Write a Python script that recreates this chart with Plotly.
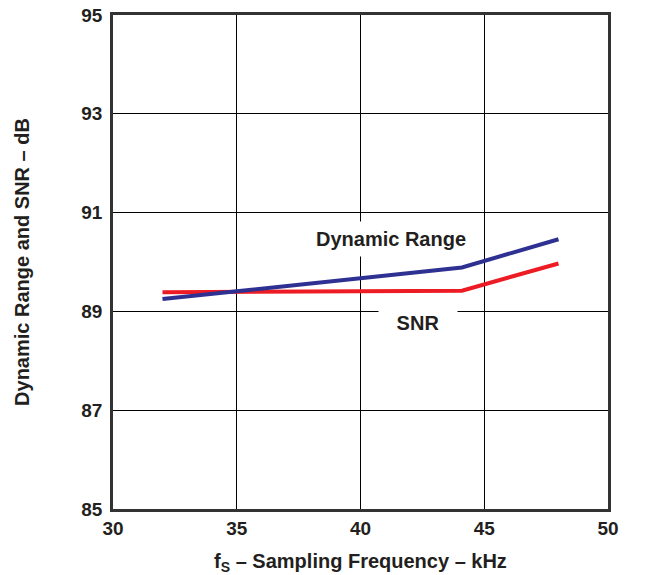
import plotly.graph_objects as go

freq_khz = [32, 44.1, 48]
dynamic_range_db = [89.25, 89.89, 90.46]
snr_db = [89.39, 89.42, 89.97]

x_ticks = [30, 35, 40, 45, 50]
y_ticks = [85, 87, 89, 91, 93, 95]

FONT = "Liberation Sans, Arial, sans-serif"
TXT = "#231F20"

fig = go.Figure()
fig.add_trace(go.Scatter(x=freq_khz, y=snr_db, mode="lines",
                         line=dict(color="#ED1C24", width=4), name="SNR"))
fig.add_trace(go.Scatter(x=freq_khz, y=dynamic_range_db, mode="lines",
                         line=dict(color="#2E3192", width=4), name="Dynamic Range"))

fig.add_annotation(x=41.23, y=90.47, text="<b>Dynamic Range</b>", showarrow=False,
                   bgcolor="white", font=dict(family=FONT, size=20, color=TXT),
                   borderpad=6)
fig.add_annotation(x=42.32, y=88.77, text="<b>SNR</b>", showarrow=False,
                   bgcolor="white", font=dict(family=FONT, size=20, color=TXT),
                   borderpad=4, width=70)

axis_common = dict(showgrid=True, gridcolor="black", gridwidth=1,
                   showline=True, linecolor="#333333", linewidth=2.5, mirror=True,
                   zeroline=False, ticks="", automargin=False,
                   tickfont=dict(family=FONT, size=19, color=TXT))

fig.update_xaxes(range=[30, 50], tickvals=x_ticks, ticktext=[f"<b>{v}</b>" for v in x_ticks],
                 title=dict(text="<b>f<sub>S</sub> – Sampling Frequency – kHz</b>",
                            font=dict(family=FONT, size=20, color=TXT), standoff=20),
                 **axis_common)
fig.update_yaxes(range=[85, 95], tickvals=y_ticks, ticktext=[f"<b>{v}</b>" for v in y_ticks],
                 ticklabelstandoff=4,
                 title=dict(text="<b>Dynamic Range and SNR – dB</b>",
                            font=dict(family=FONT, size=20, color=TXT), standoff=47),
                 **axis_common)

fig.update_layout(width=660, height=575, margin=dict(l=113, r=52, t=15, b=66),
                  plot_bgcolor="white", paper_bgcolor="white", showlegend=False)

fig.write_html("out.html", config={"displayModeBar": False},
               post_script="document.body.style.margin='0';")
